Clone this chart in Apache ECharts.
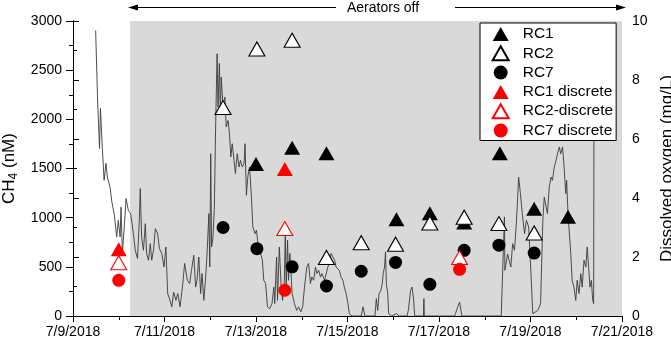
<!DOCTYPE html>
<html>
<head>
<meta charset="utf-8">
<script src="https://cdn.jsdelivr.net/npm/echarts@6/dist/echarts.min.js"></script>
<style>
    html, body { margin: 0; padding: 0; background: #fff; }
    #chart { width: 671px; height: 339px; }
</style>
</head>
<body>
<div id="chart"></div>
<script>
// x values are days after 7/9/2018
var xTickLabels = ['7/9/2018', '7/11/2018', '7/13/2018', '7/15/2018', '7/17/2018', '7/19/2018', '7/21/2018'];

// CH4 samples (nM)
var rc1 = [[4.00, 1545], [4.79, 1710], [5.54, 1655], [7.07, 985], [7.80, 1045], [8.55, 950], [9.33, 1655], [10.08, 1090], [10.82, 1010]];
var rc2 = [[3.28, 2120], [4.02, 2715], [4.79, 2805], [5.54, 595], [6.30, 745], [7.05, 730], [7.80, 945], [8.55, 1005], [9.31, 940], [10.08, 845]];
var rc7 = [[3.28, 900], [4.02, 685], [4.79, 500], [5.54, 305], [6.30, 455], [7.05, 545], [7.80, 322], [8.55, 668], [9.31, 720], [10.08, 640]];
var rc1Discrete = [[1.00, 680], [4.63, 1495]];
var rc2Discrete = [[1.00, 541], [4.63, 889], [8.45, 594]];
var rc7Discrete = [[1.00, 363], [4.63, 262], [8.45, 475]];

// aerators off period (days)
var aeratorsOff = [1.25, 12];

// dissolved oxygen logger (mg/L)
var doDays = [0.495, 0.54, 0.58, 0.60, 0.64, 0.68, 0.72, 0.75, 0.81, 0.85, 0.90, 0.955, 0.99, 1.03, 1.05, 1.08, 1.12, 1.16, 1.21, 1.26,
    1.32, 1.36, 1.41, 1.45, 1.47, 1.50, 1.54, 1.58, 1.61, 1.65, 1.69, 1.72, 1.76, 1.80, 1.85, 1.89, 1.94, 1.99, 2.03, 2.07,
    2.12, 2.16, 2.20, 2.25, 2.29, 2.34, 2.40, 2.44, 2.50, 2.55, 2.59, 2.64, 2.68, 2.71, 2.75, 2.79, 2.82, 2.86, 2.90, 2.93,
    2.97, 2.99, 3.01, 3.03, 3.06, 3.09, 3.12, 3.15, 3.17, 3.20, 3.22, 3.24, 3.28, 3.32, 3.35, 3.39, 3.42, 3.45, 3.48, 3.52,
    3.55, 3.59, 3.63, 3.66, 3.70, 3.74, 3.76, 3.79, 3.82, 3.86, 3.90, 3.93, 3.98, 4.01, 4.05, 4.10, 4.14, 4.17, 4.21, 4.25,
    4.30, 4.35, 4.39, 4.41, 4.45, 4.47, 4.51, 4.55, 4.58, 4.62, 4.64, 4.66, 4.69, 4.71, 4.74, 4.79, 4.84, 4.89, 4.93, 4.98,
    5.02, 5.06, 5.11, 5.15, 5.19, 5.22, 5.26, 5.30, 5.33, 5.37, 5.41, 5.44, 5.50, 5.57, 5.61, 5.64, 5.68, 5.72, 5.75, 5.79,
    5.82, 5.86, 5.90, 5.93, 5.97, 6.01, 6.04, 6.10, 6.30, 6.34, 6.38, 6.60, 6.63, 6.66, 6.69, 6.73, 6.76, 6.78, 6.81, 6.83,
    6.85, 6.88, 6.90, 6.96, 7.07, 7.13, 7.30, 7.33, 7.38, 7.41, 7.44, 7.47, 7.66, 7.67, 7.68, 8.34, 8.36, 8.41, 8.45, 8.48,
    8.50, 9.36, 9.43, 9.44, 9.50, 9.57, 9.61, 9.65, 9.68, 9.71, 9.74, 9.78, 9.82, 9.87, 9.91, 9.96, 10.01, 10.05, 10.16, 10.22,
    10.27, 10.30, 10.34, 10.37, 10.41, 10.45, 10.48, 10.52, 10.56, 10.59, 10.63, 10.66, 10.70, 10.74, 10.77, 10.79, 10.82, 10.84, 10.88, 10.91,
    10.95, 10.99, 11.02, 11.06, 11.10, 11.13, 11.17, 11.21, 11.24, 11.28, 11.30, 11.33, 11.36, 11.38, 11.39];
var doVals = [9.68, 7.2, 5.68, 7.04, 5.73, 4.6, 5.18, 4.71, 4.37, 3.86, 3.47, 2.68, 3.24, 2.68, 3.69, 2.12, 3.02, 3.98, 3.58, 3.47,
    2.79, 2.23, 1.95, 3.24, 4.32, 2.68, 2.23, 3.13, 2.12, 1.89, 2.45, 1.89, 2.23, 2.96, 2.79, 2.28, 2.12, 1.66, 2.34, 0.76,
    0.53, 0.31, 0.81, 0.53, 0.76, 0.31, 1.10, 1.78, 1.21, 1.10, 1.55, 2.06, 0.98, 1.21, 2.0, 0.76, 1.44, 0.53, 1.32, 2.12,
    3.47, 1.66, 5.5, 2.34, 2.68, 3.69, 6.63, 8.89, 7.08, 8.56, 6.86, 8.1, 7.08, 7.42, 6.41, 6.63, 6.18, 5.39, 5.84, 5.28,
    4.83, 5.5, 5.05, 5.28, 5.05, 5.17, 5.84, 4.09, 4.71, 5.05, 4.03, 3.02, 2.79, 2.91, 2.34, 2.12, 1.89, 1.21, 1.10, 0.31,
    0.25, 0.42, 0.98, 0.42, 2.0, 0.53, 2.34, 0.98, 0.53, 1.21, 2.79, 0.98, 2.57, 1.21, 2.12, 0.76, 0.42, 0.19, 0.31, 0.14,
    0.31, 0.98, 1.66, 1.78, 1.10, 1.32, 1.21, 1.66, 1.44, 1.55, 1.32, 1.44, 1.21, 1.66, 1.78, 2.12, 2.0, 1.89, 1.66, 1.72,
    1.55, 1.32, 1.21, 0.98, 0.76, 0.42, 0.08, 0, 0, 0.31, 0, 0, 0.59, 0.19, 0.76, 0.87, 1.10, 1.44, 1.66, 2.17,
    1.10, 0.76, 0.08, 0, 0.08, 0, 0, 0.19, 0.87, 0.98, 0.64, 0, 0, 0.59, 0, 0, 0.08, 0.31, 0.47, 0.19,
    0, 0, 3.36, 1.55, 2.1, 1.66, 2.45, 2.23, 2.9, 3.69, 4.71, 4.15, 3.47, 2.79, 3.24, 3.02, 1.44, 0.08, 0.19, 0.42,
    3.24, 4.03, 4.03, 3.47, 4.37, 4.71, 4.6, 5.05, 5.28, 5.5, 5.73, 5.5, 5.73, 4.94, 4.15, 4.6, 3.47, 3.02, 2.12, 1.21,
    0.98, 0.53, 1.21, 0.76, 1.44, 0.98, 1.89, 1.66, 2.34, 1.44, 0.98, 1.21, 0.53, 0.42, 9.5];

var FONT = 'Liberation Sans, Arial, sans-serif';
// triangle drawn as a path so the legend keeps its aspect
var TRIANGLE = 'path://M0,14L8,0L16,14Z';

function dayLabel(v){
    var i = Math.round(v / 2);
    return xTickLabels[i] || '';
}

function zipSeries(xs, ys){
    var out = [];
    for (var i = 0; i < xs.length; i++){
        out.push([xs[i], ys[i]]);
    }
    return out;
}

// scatter series helper
function markerSeries(name, data, symbol, size, fill, stroke){
    return {
        name: name,
        type: 'scatter',
        xAxisIndex: 0,
        yAxisIndex: 0,
        data: data,
        symbol: symbol,
        symbolSize: size,
        itemStyle: {
            color: fill,
            borderColor: stroke || fill,
            borderWidth: stroke ? 1.1 : 0,
            opacity: 1
        },
        z: 3
    };
}

var chart = echarts.init(document.getElementById('chart'), null, {renderer: 'canvas'});

var option = {
    animation: false,
    backgroundColor: '#fff',
    textStyle: { fontFamily: FONT },
    grid: { left: 73, right: 49, top: 21, bottom: 23, containLabel: false, outerBoundsMode: 'none' },
    legend: {
        orient: 'vertical',
        left: 480,
        top: 23,
        data: [
            { name: 'RC1', icon: TRIANGLE },
            { name: 'RC2', icon: TRIANGLE },
            { name: 'RC7', icon: 'circle' },
            { name: 'RC1 discrete', icon: TRIANGLE },
            { name: 'RC2-discrete', icon: TRIANGLE },
            { name: 'RC7 discrete', icon: 'circle' }
        ],
        symbolKeepAspect: true,
        itemWidth: 34,
        itemHeight: 14,
        itemGap: 3.3,
        padding: [3, 3, 2, 11.7],
        backgroundColor: '#fff',
        borderColor: '#000',
        borderWidth: 1,
        borderRadius: 0,
        textStyle: { fontSize: 15.5, color: '#000', fontFamily: FONT, lineHeight: 16 },
        selectedMode: false
    },
    xAxis: [
        {
            type: 'value',
            position: 'bottom',
            min: 0,
            max: 12,
            interval: 2,
            axisLine: { show: true, lineStyle: { color: '#000', width: 1 } },
            axisTick: { show: true, inside: false, length: 6, lineStyle: { color: '#000' } },
            minorTick: { show: true, splitNumber: 2, length: 4, lineStyle: { color: '#000' } },
            splitLine: { show: false },
            axisLabel: { formatter: dayLabel, fontSize: 14, color: '#000', margin: 9, fontFamily: FONT }
        },
        {
            type: 'value',
            position: 'top',
            min: 0,
            max: 12,
            interval: 1,
            axisLine: { show: true, lineStyle: { color: '#000', width: 1 } },
            axisTick: { show: true, inside: true, length: 4, lineStyle: { color: '#000' } },
            splitLine: { show: false },
            axisLabel: { show: false }
        }
    ],
    yAxis: [
        {
            type: 'value',
            position: 'left',
            min: 0,
            max: 3000,
            interval: 500,
            name: '{a|CH}{s|4}{a| (nM)}',
            nameLocation: 'middle',
            nameRotate: 90,
            nameGap: 47,
            nameTextStyle: {
                rich: {
                    a: { fontSize: 17, color: '#000', fontFamily: FONT },
                    s: { fontSize: 12, color: '#000', fontFamily: FONT, verticalAlign: 'bottom', padding: [9, 0, 0, 0] }
                }
            },
            axisLine: { show: true, lineStyle: { color: '#000', width: 1 } },
            axisTick: { show: true, inside: false, length: 7, lineStyle: { color: '#000' } },
            minorTick: { show: true, splitNumber: 2, length: 4, lineStyle: { color: '#000' } },
            splitLine: { show: false },
            axisLabel: { fontSize: 14, color: '#000', margin: 11, fontFamily: FONT, formatter: function(v){ return String(v); } }
        },
        {
            type: 'value',
            position: 'right',
            min: 0,
            max: 10,
            interval: 2,
            name: 'Dissolved oxygen (mg/L)',
            nameLocation: 'middle',
            nameRotate: 90,
            nameGap: 21,
            nameTextStyle: { fontSize: 17, color: '#000', fontFamily: FONT },
            axisLine: { show: true, lineStyle: { color: '#000', width: 1 } },
            axisTick: { show: true, inside: false, length: 6, lineStyle: { color: '#000' } },
            minorTick: { show: true, splitNumber: 2, length: 4, lineStyle: { color: '#000' } },
            splitLine: { show: false },
            axisLabel: { fontSize: 14, color: '#000', margin: 10, fontFamily: FONT }
        }
    ],
    series: [
        {
            name: 'DO',
            type: 'line',
            xAxisIndex: 0,
            yAxisIndex: 1,
            data: zipSeries(doDays, doVals),
            showSymbol: false,
            symbol: 'none',
            lineStyle: { color: '#3a3a3a', width: 0.9 },
            z: 2,
            markArea: {
                silent: true,
                z: 1,
                itemStyle: { color: '#d9d9d9' },
                data: [[{ xAxis: aeratorsOff[0] }, { xAxis: aeratorsOff[1] }]]
            }
        },
        markerSeries('RC1', rc1, TRIANGLE, [16, 14], '#000', null),
        markerSeries('RC2', rc2, TRIANGLE, [16, 14], '#fff', '#000'),
        markerSeries('RC7', rc7, 'circle', 13, '#000', null),
        markerSeries('RC1 discrete', rc1Discrete, TRIANGLE, [16, 14], '#ff0000', null),
        markerSeries('RC2-discrete', rc2Discrete, TRIANGLE, [16, 14], '#fff', '#ff0000'),
        markerSeries('RC7 discrete', rc7Discrete, 'circle', 13, '#ff0000', null)
    ],
    // "Aerators off" arrow above the plot
    graphic: [
        { type: 'line', shape: { x1: 136, y1: 7.5, x2: 336, y2: 7.5 }, style: { stroke: '#000', lineWidth: 1 } },
        { type: 'polygon', shape: { points: [[128, 7.5], [138, 4.5], [138, 10.5]] }, style: { fill: '#000' } },
        { type: 'text', x: 347, y: 8, style: { text: 'Aerators off', fontSize: 14, fontFamily: FONT, fill: '#000', verticalAlign: 'middle' } },
        { type: 'line', shape: { x1: 455, y1: 7.5, x2: 617, y2: 7.5 }, style: { stroke: '#000', lineWidth: 1 } },
        { type: 'polygon', shape: { points: [[626, 7.5], [616, 4.5], [616, 10.5]] }, style: { fill: '#000' } }
    ]
};

chart.setOption(option);
</script>
</body>
</html>
